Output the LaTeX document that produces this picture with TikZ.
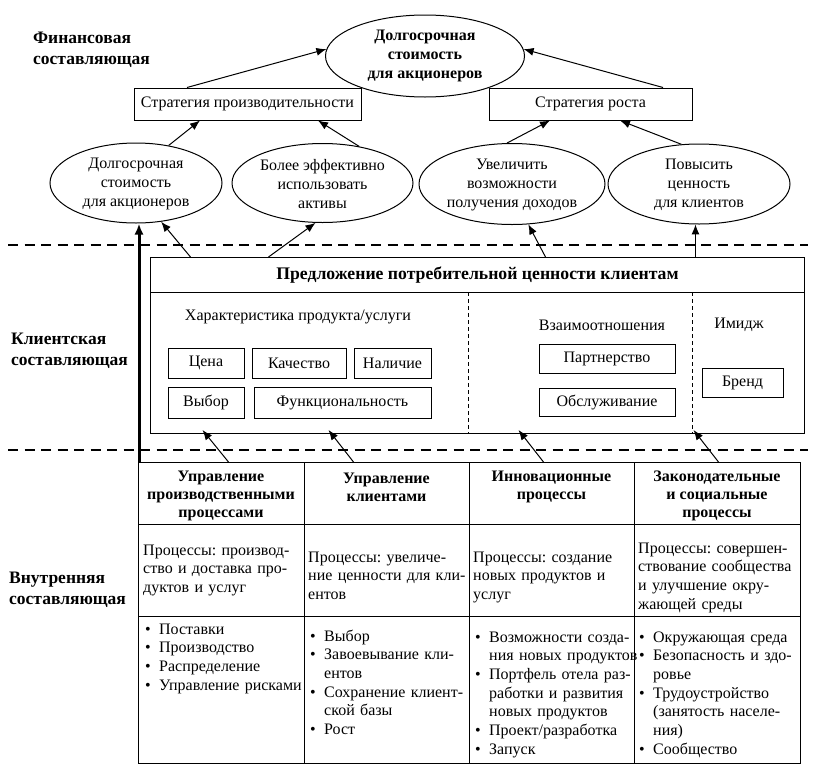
\documentclass[tikz,border=0pt]{standalone}
\usepackage{fontspec}
\setmainfont{Liberation Serif}
\frenchspacing
\usetikzlibrary{shapes.geometric,arrows.meta}
\newcommand\bl[1]{\makebox[14pt][l]{\textbullet}#1}
\newcommand\cn[1]{\hspace*{14pt}#1}
\begin{document}
\begin{tikzpicture}[x=1pt,y=-1pt,
  font=\fontsize{16}{18.7}\selectfont,
  ell/.style={draw,ellipse,line width=1pt,inner sep=0pt},
  etxt/.style={align=center,inner sep=0pt},
  box/.style={draw,rectangle,line width=1pt,inner sep=0pt,align=center},
  arr/.style={line width=1pt,-{Latex[length=10pt,width=8pt]}},
  thickarr/.style={line width=3pt,-{Latex[length=11pt,width=9pt]}},
  sepline/.style={line width=1.6pt,dash pattern=on 10pt off 6.5pt},
  dotline/.style={line width=0.9pt,dash pattern=on 4pt off 3pt},
  lbl/.style={font=\fontsize{17.5}{21}\selectfont\bfseries,align=left,anchor=west,inner sep=0pt},
  cell/.style={draw,rectangle,line width=1pt,inner sep=0pt,anchor=north west,minimum width=166pt},
  htxt/.style={font=\fontsize{16}{18}\selectfont\bfseries,align=center,inner sep=0pt},
  ctext/.style={anchor=base west,align=left,inner sep=0pt,text width=200pt}
]
\useasboundingbox (0,0) rectangle (813,774);

% side labels
\node[lbl] (finlbl) at (33,50) {Финансовая\\составляющая};
\node[lbl] (clilbl) at (11,351) {Клиентская\\составляющая};
\node[lbl] (intlbl) at (9,590) {Внутренняя\\составляющая};

% separators
\draw[sepline] (8,245) -- (808,245);
\draw[sepline] (8,450) -- (808,450);

% financial
\node[ell,minimum width=199pt,minimum height=82pt] (T) at (425,56) {};
\node[etxt,font=\fontsize{16}{18.7}\selectfont\bfseries] (Tt) at (T) {Долгосрочная\\стоимость\\для акционеров};
\node[box,minimum width=227pt,minimum height=32pt] (S1) at (247.5,104) {Стратегия производительности};
\node[box,minimum width=203pt,minimum height=32pt] (S2) at (590.5,104) {Стратегия роста};

\node[ell,minimum width=172pt,minimum height=80pt] (E1) at (136,183) {};
\node[etxt] (E1t) at ([yshift=-1pt]E1) {Долгосрочная\\стоимость\\для акционеров};
\node[ell,minimum width=181pt,minimum height=79pt] (E2) at (322.5,183) {};
\node[etxt] (E2t) at ([yshift=-1pt]E2) {Более эффективно\\использовать\\активы};
\node[ell,minimum width=186pt,minimum height=81pt] (E3) at (512,184) {};
\node[etxt] (E3t) at ([yshift=-1pt]E3) {Увеличить\\возможности\\получения доходов};
\node[ell,minimum width=182pt,minimum height=80pt] (E4) at (699,184) {};
\node[etxt] (E4t) at ([yshift=-1pt]E4) {Повысить\\ценность\\для клиентов};

\draw[arr] ([xshift=-60.5pt]S1.north) -- (T.176);
\draw[arr] ([xshift=72.5pt]S2.north) -- (T.4);
\draw[arr] (E1.49) -- ([xshift=-47.5pt]S1.south);
\draw[arr] (E2.45) -- ([xshift=70.5pt]S1.south);
\draw[arr] (E3.97) -- ([xshift=-40.5pt]S2.south);
\draw[arr] (E4.114) -- ([xshift=29.5pt]S2.south);

% customer value proposition
\node[box,anchor=north west,minimum width=654pt,minimum height=35pt,font=\fontsize{17.7}{20}\selectfont\bfseries] (PH) at (150,257) {Предложение потребительной ценности клиентам};
\node[box,anchor=north west,minimum width=654pt,minimum height=141pt] (PB) at (150,292) {};
\draw[dotline] (468,292) -- (468,433);
\draw[dotline] (692,292) -- (692,433);

\node (hx) at (298,317) {Характеристика продукта/услуги};
\node (hv) at (602,325) {Взаимоотношения};
\node (hi) at (739,325) {Имидж};

\node[box,minimum width=76pt,minimum height=30pt] (c1) at (206,363) {Цена};
\node[box,minimum width=94pt,minimum height=30pt] (c2) at (299,363) {Качество};
\node[box,minimum width=77pt,minimum height=30pt] (c3) at (392.5,363) {Наличие};
\node[box,minimum width=76pt,minimum height=31pt] (c4) at (206,402.5) {Выбор};
\node[box,minimum width=177pt,minimum height=31pt] (c5) at (342.5,402.5) {Функциональность};
\node[box,minimum width=136pt,minimum height=29pt] (r1) at (607,358.5) {Партнерство};
\node[box,minimum width=136pt,minimum height=28pt] (r2) at (607,402) {Обслуживание};
\node[box,minimum width=81pt,minimum height=29pt] (i1) at (742.5,382.5) {Бренд};

\draw[arr] ([xshift=-287pt]PH.north) -- (E1.-57);
\draw[arr] ([xshift=-209pt]PH.north) -- (E2.-100);
\draw[arr] ([xshift=68pt]PH.north) -- (E3.-68);
\draw[arr] (E4.-95 |- PH.north) -- (E4.-95);

% internal processes table
\node[cell,minimum height=62pt] (h1) at (138,462) {};
\node[cell,minimum height=62pt,minimum width=165pt] (h2) at (304,462) {};
\node[cell,minimum height=62pt,minimum width=165pt] (h3) at (469,462) {};
\node[cell,minimum height=62pt] (h4) at (634,462) {};
\node[cell,minimum height=92pt] (m1) at (138,524) {};
\node[cell,minimum height=92pt,minimum width=165pt] (m2) at (304,524) {};
\node[cell,minimum height=92pt,minimum width=165pt] (m3) at (469,524) {};
\node[cell,minimum height=92pt] (m4) at (634,524) {};
\node[cell,minimum height=147pt] (b1) at (138,616) {};
\node[cell,minimum height=147pt,minimum width=165pt] (b2) at (304,616) {};
\node[cell,minimum height=147pt,minimum width=165pt] (b3) at (469,616) {};
\node[cell,minimum height=147pt] (b4) at (634,616) {};

\node[htxt] (h1t) at (221,496) {Управление\\производственными\\процессами};
\node[htxt] (h2t) at (386.5,487) {Управление\\клиентами};
\node[htxt] (h3t) at (551.5,487) {Инновационные\\процессы};
\node[htxt] (h4t) at (717,496) {Законодательные\\и социальные\\процессы};

\node[ctext] (m1t) at (143,555) {Процессы: производ-\\ство и доставка про-\\дуктов и услуг};
\node[ctext] (m2t) at (308,562) {Процессы: увеличе-\\ние ценности для кли-\\ентов};
\node[ctext] (m3t) at (473,562) {Процессы: создание\\новых продуктов и\\услуг};
\node[ctext] (m4t) at (638,553) {Процессы: совершен-\\ствование сообщества\\и улучшение окру-\\жающей среды};

\node[ctext] (b1t) at (145,634) {\bl{Поставки}\\\bl{Производство}\\\bl{Распределение}\\\bl{Управление рисками}};
\node[ctext] (b2t) at (310,641) {\bl{Выбор}\\\bl{Завоевывание кли-}\\\cn{ентов}\\\bl{Сохранение клиент-}\\\cn{ской базы}\\\bl{Рост}};
\node[ctext] (b3t) at (475,642) {\bl{Возможности созда-}\\\cn{ния новых продуктов}\\\bl{Портфель отела раз-}\\\cn{работки и развития}\\\cn{новых продуктов}\\\bl{Проект/разработка}\\\bl{Запуск}};
\node[ctext] (b4t) at (639,642) {\bl{Окружающая среда}\\\bl{Безопасность и здо-}\\\cn{ровье}\\\bl{Трудоустройство}\\\cn{(занятость населе-}\\\cn{ния)}\\\bl{Сообщество}};

% arrows from table to value proposition
\draw[arr] ([xshift=7pt]h1.north) -- ([xshift=-275pt,yshift=4pt]PB.south);
\draw[arr] ([xshift=-33.5pt]h2.north) -- ([xshift=-149pt,yshift=4pt]PB.south);
\draw[arr] ([xshift=-8.5pt]h3.north) -- ([xshift=41pt,yshift=4pt]PB.south);
\draw[arr] ([xshift=1pt]h4.north) -- ([xshift=216pt,yshift=4pt]PB.south);

% thick arrow
\coordinate (tl) at ([xshift=1pt]h1.north west);
\draw[thickarr] (tl) -- (tl |- E1.south);
\end{tikzpicture}
\end{document}
